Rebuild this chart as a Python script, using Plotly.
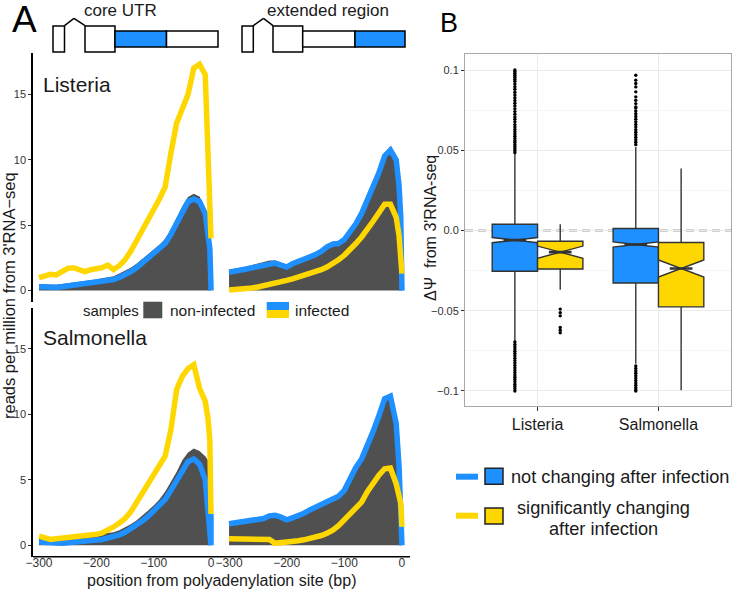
import plotly.graph_objects as go

W, H = 733, 590


def fx(p):
    return p / W


def fy(p):
    return 1 - p / H


# ---------------- Panel A data ----------------
positions = [-300, -290, -280, -270, -260, -250, -240, -230, -220, -210, -200, -190,
             -180, -170, -160, -150, -140, -130, -120, -110, -100, -90, -80, -70,
             -60, -50, -40, -30, -20, -10, -5, -2, 0, 0]

# Listeria, core UTR
lis_core_noninf = [0.5, 0.45, 0.45, 0.45, 0.5, 0.55, 0.6, 0.65, 0.7, 0.75, 0.85, 0.95,
                   1.0, 1.1, 1.3, 1.5, 1.75, 2.05, 2.4, 2.8, 3.15, 3.5, 3.95, 4.65,
                   5.55, 6.45, 7.15, 7.4, 7.2, 6.3, 5.3, 4.6, 4.0, 0]
lis_core_not = [0.3, 0.25, 0.25, 0.25, 0.3, 0.35, 0.4, 0.45, 0.5, 0.55, 0.6, 0.7,
                0.75, 0.85, 1.0, 1.2, 1.45, 1.75, 2.1, 2.5, 2.85, 3.2, 3.6, 4.3,
                5.2, 6.1, 6.8, 7.0, 6.8, 5.9, 4.6, 3.2, 0.3, 0]
lis_core_sig = [1.0, 1.15, 1.25, 1.2, 1.45, 1.7, 1.75, 1.55, 1.45, 1.6, 1.65, 1.75,
                1.95, 1.6, 1.9, 2.35, 3.0, 3.75, 4.6, 5.35, 6.2, 7.0, 7.9, 10.5,
                12.8, 13.9, 15.0, 17.0, 17.3, 16.5, 11.0, 5.5, 4.0, 4.0]

# Listeria, extended region
lis_ext_noninf = [1.6, 1.65, 1.75, 1.85, 1.95, 2.05, 2.2, 2.3, 2.3, 2.15, 2.0, 2.25,
                  2.4, 2.55, 2.75, 2.95, 3.2, 3.55, 3.75, 3.8, 4.1, 4.7, 5.3, 6.1,
                  7.1, 8.1, 9.2, 10.5, 11.0, 10.2, 8.3, 5.9, 1.4, 0]
lis_ext_not = [1.4, 1.45, 1.55, 1.65, 1.75, 1.85, 2.0, 2.1, 2.1, 1.95, 1.8, 2.05,
               2.2, 2.35, 2.55, 2.75, 3.0, 3.35, 3.55, 3.6, 3.9, 4.5, 5.1, 5.9,
               6.9, 7.9, 9.0, 10.3, 10.75, 10.0, 8.0, 5.5, 1.3, 0]
lis_ext_sig = [0.05, 0.07, 0.1, 0.15, 0.2, 0.28, 0.36, 0.45, 0.55, 0.65, 0.78, 0.9,
               1.02, 1.15, 1.3, 1.45, 1.6, 1.8, 2.05, 2.35, 2.7, 3.1, 3.6, 4.1,
               4.65, 5.3, 5.95, 6.6, 6.6, 5.6, 4.2, 2.8, 1.3, 1.3]

# Salmonella, core UTR
sal_core_noninf = [0.55, 0.5, 0.45, 0.45, 0.5, 0.55, 0.6, 0.65, 0.7, 0.75, 0.8, 0.85,
                   0.9, 1.0, 1.15, 1.35, 1.6, 1.9, 2.25, 2.65, 3.05, 3.5, 4.1, 4.8,
                   5.6, 6.5, 7.1, 7.4, 7.2, 6.8, 6.5, 6.3, 6.1, 0]
sal_core_not = [0.25, 0.2, 0.15, 0.15, 0.15, 0.2, 0.22, 0.25, 0.3, 0.35, 0.4, 0.45,
                0.55, 0.65, 0.8, 1.0, 1.25, 1.55, 1.85, 2.2, 2.6, 3.0, 3.5, 4.2,
                5.0, 5.8, 6.4, 6.6, 6.2, 5.0, 2.6, 0.6, 0.0, 2.4]
sal_core_sig = [0.7, 0.55, 0.45, 0.5, 0.55, 0.6, 0.62, 0.65, 0.66, 0.75, 0.85, 0.95,
                1.15, 1.4, 1.7, 2.05, 2.55, 3.25, 4.0, 4.8, 5.5, 6.15, 6.8, 8.8,
                11.9, 12.9, 13.5, 13.8, 12.0, 11.0, 9.6, 8.0, 2.4, 2.4]

# Salmonella, extended region
sal_ext_noninf = [1.55, 1.6, 1.65, 1.75, 1.8, 1.9, 1.95, 2.15, 2.2, 2.05, 1.85, 2.0,
                  2.15, 2.35, 2.6, 2.8, 3.05, 3.2, 3.35, 3.55, 4.0, 4.9, 5.75, 6.4,
                  7.4, 8.5, 9.7, 11.0, 11.2, 9.1, 5.8, 2.3, 1.2, 0]
sal_ext_not = [1.65, 1.7, 1.75, 1.85, 1.9, 2.0, 2.05, 2.25, 2.3, 2.15, 1.95, 2.1,
               2.25, 2.45, 2.7, 2.9, 3.15, 3.3, 3.5, 3.75, 4.2, 5.1, 5.95, 6.6,
               7.6, 8.7, 9.9, 11.2, 11.4, 9.3, 6.0, 2.5, 1.4, 0]
sal_ext_sig = [0.5, 0.5, 0.45, 0.45, 0.48, 0.5, 0.52, 0.45, 0.15, 0.18, 0.22, 0.28,
               0.35, 0.42, 0.5, 0.6, 0.75, 0.92, 1.15, 1.5, 1.95, 2.45, 2.85, 3.3,
               4.1, 4.8, 5.35, 5.85, 5.9, 4.7, 3.8, 3.2, 1.4, 1.4]

a_xticks = [-300, -200, -100, 0]
a_xticklabels = ["\u2212300", "\u2212200", "\u2212100", "0"]
a_yticks = [0, 5, 10, 15]
a_yticklabels = ["0", "5", "10", "15"]

# ---------------- Panel B data ----------------
pathogens = ["Listeria", "Salmonella"]
not_q1 = [-0.0254, -0.0327]
not_med = [-0.0060, -0.0087]
not_q3 = [0.0039, 0.0012]
not_lo = [-0.069, -0.083]
not_hi = [0.048, 0.052]
not_notch = [0.0016, 0.0016]

sig_q1 = [-0.0240, -0.0476]
sig_med = [-0.0135, -0.0237]
sig_q3 = [-0.0067, -0.0075]
sig_lo = [-0.037, -0.0995]
sig_hi = [0.0039, 0.0386]
sig_notch = [0.0038, 0.0053]

lis_not_outliers = [0.0485, 0.0497, 0.051, 0.0522, 0.0535, 0.0548, 0.056, 0.0574, 0.0588,
                    0.0601, 0.0615, 0.063, 0.0646, 0.066, 0.0677, 0.0693, 0.0708, 0.0725,
                    0.0741, 0.0758, 0.0776, 0.0793, 0.081, 0.0828, 0.0845, 0.0862, 0.088,
                    0.0896, 0.0913, 0.093, 0.0942, 0.0955, 0.0968, 0.098, 0.0991, 0.1,
                    -0.0695, -0.071, -0.0724, -0.0738, -0.0752, -0.0767, -0.0781, -0.0796,
                    -0.0811, -0.0826, -0.0841, -0.0856, -0.087, -0.0885, -0.09, -0.0914,
                    -0.0929, -0.0943, -0.0958, -0.0972, -0.0986, -0.1]
lis_sig_outliers = [-0.049, -0.0512, -0.0532, -0.0605, -0.0622, -0.0638]
sal_not_outliers = [0.0535, 0.055, 0.0566, 0.0581, 0.0597, 0.0612, 0.0628, 0.0645, 0.0661,
                    0.0677, 0.0694, 0.071, 0.0728, 0.0745, 0.0763, 0.077, 0.0791, 0.0812,
                    0.0833, 0.0864, 0.0895, 0.0916, 0.0937, 0.0968,
                    -0.0845, -0.086, -0.0875, -0.089, -0.0905, -0.092, -0.0935, -0.095,
                    -0.0965, -0.098, -0.0993, -0.1]
sal_sig_outliers = []

b_yticks = [-0.1, -0.05, 0.0, 0.05, 0.1]
b_yticklabels = ["\u22120.1", "\u22120.05", "0.0", "0.05", "0.1"]
b_yminor = [-0.075, -0.025, 0.025, 0.075]

GRAY = "#505050"
BLUE = "#1E90FF"
GOLD = "#FFD700"
EDGE = "#333333"
FONT = "Liberation Sans, Arial, Helvetica, sans-serif"

fig = go.Figure()

facets = [
    ("x", "y", lis_core_noninf, lis_core_not, lis_core_sig),
    ("x2", "y", lis_ext_noninf, lis_ext_not, lis_ext_sig),
    ("x3", "y3", sal_core_noninf, sal_core_not, sal_core_sig),
    ("x4", "y3", sal_ext_noninf, sal_ext_not, sal_ext_sig),
]
for xa, ya, non, blue, gold in facets:
    fig.add_trace(go.Scatter(x=positions, y=non, xaxis=xa, yaxis=ya, mode="lines",
                             line=dict(width=0, color=GRAY), fill="tozeroy",
                             fillcolor=GRAY, hoverinfo="skip", showlegend=False))
    fig.add_trace(go.Scatter(x=positions, y=blue, xaxis=xa, yaxis=ya, mode="lines",
                             line=dict(width=5.5, color=BLUE), hoverinfo="skip",
                             showlegend=False))
    fig.add_trace(go.Scatter(x=positions, y=gold, xaxis=xa, yaxis=ya, mode="lines",
                             line=dict(width=5.5, color=GOLD), hoverinfo="skip",
                             showlegend=False))

# ---------------- Panel B traces ----------------
BOXW = 0.375
groups = [
    (-BOXW / 2, BLUE, not_q1, not_med, not_q3, not_lo, not_hi, not_notch,
     [lis_not_outliers, sal_not_outliers]),
    (BOXW / 2, GOLD, sig_q1, sig_med, sig_q3, sig_lo, sig_hi, sig_notch,
     [lis_sig_outliers, sal_sig_outliers]),
]
for off, col, q1, med, q3, lo, hi, notch, outs in groups:
    xs = [i + off for i in range(len(pathogens))]
    fig.add_trace(go.Box(x=xs, q1=q1, median=med, q3=q3, lowerfence=lo, upperfence=hi,
                         notchspan=notch, notched=True, notchwidth=0.5, width=BOXW,
                         fillcolor=col, line=dict(color=EDGE, width=1.4),
                         whiskerwidth=0, boxpoints=False, xaxis="x5", yaxis="y5",
                         hoverinfo="skip", showlegend=False))
    for i, vals in enumerate(outs):
        if vals:
            fig.add_trace(go.Scatter(x=[xs[i]] * len(vals), y=vals, mode="markers",
                                     marker=dict(size=3.4, color="black"),
                                     xaxis="x5", yaxis="y5", hoverinfo="skip",
                                     showlegend=False))
    for i in range(len(pathogens)):
        fig.add_trace(go.Scatter(x=[xs[i] - BOXW / 4, xs[i] + BOXW / 4],
                                 y=[med[i], med[i]], mode="lines",
                                 line=dict(color=EDGE, width=2.6), xaxis="x5",
                                 yaxis="y5", hoverinfo="skip", showlegend=False))

# ---------------- Axes ----------------
tickfont = dict(family=FONT, size=11, color="#333333")
xr = [-310.5, 10.5]
hidden_x = dict(range=xr, showticklabels=False, ticks="", showline=False,
                showgrid=False, zeroline=False, fixedrange=True, automargin=False)
shown_x = dict(range=xr, tickvals=a_xticks, ticktext=a_xticklabels, ticks="",
               tickfont=dict(family=FONT, size=12, color="#333333"),
               showline=False, showgrid=False, zeroline=False, fixedrange=True,
               automargin=False)
ya_common = dict(tickvals=a_yticks, ticktext=a_yticklabels, ticks="outside", ticklen=3,
                 tickcolor="#333333", tickfont=tickfont, showline=True, linecolor="black",
                 linewidth=1.5, showgrid=False, zeroline=False, fixedrange=True,
                 automargin=False)

fig.update_layout(
    template="none",
    xaxis=dict(domain=[fx(33), fx(217)], anchor="y", **hidden_x),
    xaxis2=dict(domain=[fx(223), fx(408)], anchor="y", **hidden_x),
    xaxis3=dict(domain=[fx(33), fx(217)], anchor="free", position=fy(554), **shown_x),
    xaxis4=dict(domain=[fx(223), fx(408)], anchor="free", position=fy(554), **shown_x),
    yaxis=dict(domain=[fy(302), fy(52.5)], range=[-0.87, 18.2], anchor="x", **ya_common),
    yaxis3=dict(domain=[fy(556.7), fy(308)], range=[-0.87, 18.13], anchor="x3", **ya_common),
    xaxis5=dict(domain=[fx(465), fx(731)], range=[-0.6, 1.6], anchor="y5",
                tickvals=list(range(len(pathogens))), ticktext=pathogens,
                ticks="outside", ticklen=4, tickcolor="#333333",
                tickfont=dict(family=FONT, size=16, color="#1a1a1a"),
                showgrid=True, gridcolor="#EBEBEB", gridwidth=1,
                showline=True, mirror=True, linecolor="#A8A8A8", linewidth=1,
                zeroline=False, fixedrange=True, automargin=False),
    yaxis5=dict(domain=[fy(405.7), fy(54)], range=[-0.1092, 0.110], anchor="x5",
                tickvals=b_yticks, ticktext=b_yticklabels, ticks="outside", ticklen=3,
                tickcolor="#333333", tickfont=tickfont,
                showgrid=True, gridcolor="#EBEBEB", gridwidth=1,
                minor=dict(tickvals=b_yminor, showgrid=True, gridcolor="#F5F5F5",
                           gridwidth=1, ticks=""),
                showline=True, mirror=True, linecolor="#A8A8A8", linewidth=1,
                zeroline=False, fixedrange=True, automargin=False),
)

shapes = []


def rect(x0, y0, x1, y1, fill, lw=1.5, lc="black"):
    shapes.append(dict(type="rect", xref="paper", yref="paper",
                       x0=fx(x0), x1=fx(x1), y0=fy(y0), y1=fy(y1),
                       fillcolor=fill, line=dict(color=lc, width=lw), layer="above"))


def seg(x0, y0, x1, y1, color, width):
    shapes.append(dict(type="line", xref="paper", yref="paper",
                       x0=fx(x0), x1=fx(x1), y0=fy(y0), y1=fy(y1),
                       line=dict(color=color, width=width), layer="above"))


# x-axis line under the bottom facets
seg(33, 556.7, 410, 556.7, "black", 1.5)

# gene diagrams
rect(53, 26, 64.5, 52, "white")
seg(64.5, 25.7, 74, 18.4, "black", 1.5)
seg(74, 18.4, 85, 25.7, "black", 1.5)
rect(85, 26, 115, 52, "white")
rect(115, 31, 166.5, 47, BLUE)
rect(166.5, 31, 218, 47, "white")

rect(242, 26, 253.3, 52, "white")
seg(253.3, 25.7, 263.5, 18.4, "black", 1.5)
seg(263.5, 18.4, 273, 25.7, "black", 1.5)
rect(273, 26, 302.7, 52, "white")
rect(302.7, 31, 355, 47, "white")
rect(355, 31, 405, 47, BLUE)

# legend A keys
rect(143.3, 301.7, 162.3, 318.3, GRAY, lw=0)
rect(266.7, 302, 289, 310, BLUE, lw=0)
rect(266.7, 310, 289, 318, GOLD, lw=0)

# legend B keys
seg(456, 476.7, 478, 476.7, BLUE, 6)
rect(485, 468.3, 503, 484.3, BLUE, lw=1.5, lc="#222222")
seg(456, 515.7, 478, 515.7, GOLD, 6)
rect(485, 508, 503, 524, GOLD, lw=1.5, lc="#222222")

# dashed zero line in panel B
shapes.append(dict(type="line", xref="x5 domain", yref="y5", x0=0, x1=1, y0=0, y1=0,
                   line=dict(color="#A0A0A0", width=2, dash="8px,5px"), layer="below"))

fig.update_layout(shapes=shapes)

ann = []


def text(t, x, y, size, xanchor="center", angle=0, color="#1a1a1a"):
    ann.append(dict(text=t, x=fx(x), y=fy(y), xref="paper", yref="paper",
                    xanchor=xanchor, yanchor="middle", showarrow=False,
                    textangle=angle, font=dict(family=FONT, size=size, color=color)))


text("A", 24, 19, 37, color="black")
text("B", 448.5, 23, 27, color="black")
text("core UTR", 120, 10.5, 17)
text("extended region", 328, 10.5, 17)
text("Listeria", 41, 84.3, 21, xanchor="left")
text("Salmonella", 41, 337.7, 21, xanchor="left")
text("samples", 110.5, 310, 15)
text("non-infected", 212, 310, 15.5)
text("infected", 321.7, 310, 15.5)
text("position from polyadenylation site (bp)", 222, 580.5, 16)
text("reads per million from 3'RNA\u2212seq", 9, 296, 16.5, angle=-90)
text("\u0394\u03a8  from 3'RNA-seq", 430, 228, 16, angle=-90)
text("not changing after infection", 509, 476.5, 18.2, xanchor="left")
text("significantly changing", 603, 508, 18.2)
text("after infection", 603, 528.5, 18.2)

fig.update_layout(annotations=ann)

fig.update_layout(width=W, height=H, margin=dict(l=0, r=0, t=0, b=0, pad=0),
                  autosize=False,
                  paper_bgcolor="white", plot_bgcolor="white", showlegend=False,
                  font=dict(family=FONT))

fig.write_html("out.html", config={"displayModeBar": False},
               post_script="document.body.style.margin='0px';"
                           "document.body.style.padding='0px';"
                           "document.body.style.overflow='hidden';")
